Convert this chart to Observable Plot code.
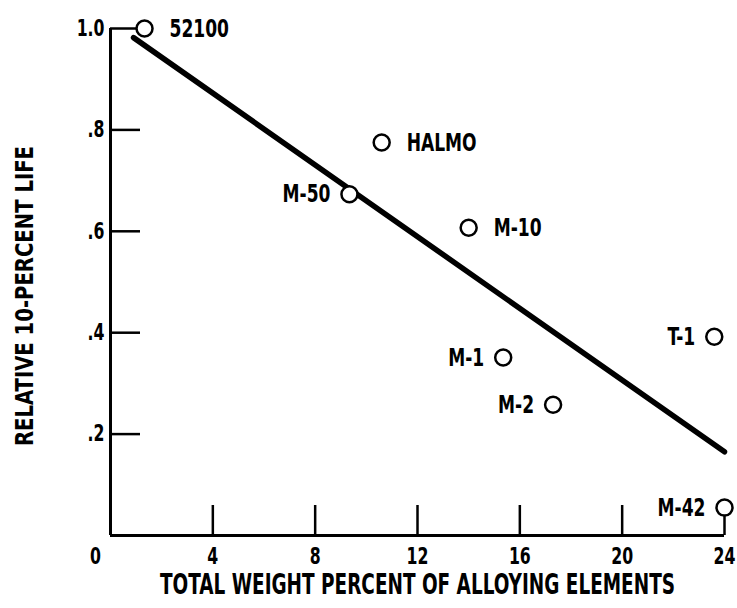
<!DOCTYPE html>
<html><head><meta charset="utf-8">
<script src="https://cdn.jsdelivr.net/npm/d3@7"></script>
<script src="https://cdn.jsdelivr.net/npm/@observablehq/plot@0.6"></script>
<style>html,body{margin:0;padding:0;background:#fff} svg{display:block}</style>
</head><body><div id="chart"></div>
<script>
// Data
const alloys = ["52100", "HALMO", "M-50", "M-10", "M-1", "M-2", "T-1", "M-42"];
const totalWeightPercent = [1.33, 10.6, 9.34, 14.0, 15.35, 17.3, 23.6, 24.0];
const relativeLife = [1.0, 0.775, 0.673, 0.607, 0.351, 0.258, 0.392, 0.055];
const labelSide = ["right", "right", "left", "right", "left", "left", "left", "left"];

const fitX = [0.9, 24.0];
const fitY = [0.982, 0.165];

const xTicks = [4, 8, 12, 16, 20, 24];
const xTickLabels = ["4", "8", "12", "16", "20", "24"];
const yTicks = [0.2, 0.4, 0.6, 0.8, 1.0];
const yTickLabels = [".2", ".4", ".6", ".8", "1.0"];
const originLabel = "0";
const xTitle = "TOTAL WEIGHT PERCENT OF ALLOYING ELEMENTS";
const yTitle = "RELATIVE 10-PERCENT LIFE";

const points = alloys.map((a, i) => ({alloy: a, x: totalWeightPercent[i], y: relativeLife[i], side: labelSide[i]}));
const fit = fitX.map((x, i) => ({x, y: fitY[i]}));

const font = "'DejaVu Sans Condensed', 'DejaVu Sans', sans-serif";

const chart = Plot.plot({
  width: 737, height: 608,
  marginLeft: 110, marginRight: 13, marginTop: 28, marginBottom: 73,
  x: {domain: [0, 24], axis: null},
  y: {domain: [0, 1], axis: null},
  style: {fontFamily: font, background: "white", color: "black", overflow: "visible"},
  marks: [
    Plot.ruleY([0], {stroke: "black", strokeWidth: 3}),
    Plot.ruleX([0], {stroke: "black", strokeWidth: 3}),
    Plot.ruleX(xTicks, {x: d => d, y1: 0, y2: 0, insetBottom: 30, stroke: "black", strokeWidth: 2.5}),
    Plot.ruleY(yTicks, {y: d => d, x1: 0, x2: 0, insetRight: -30, stroke: "black", strokeWidth: 2.5}),
    Plot.line(fit, {x: "x", y: "y", stroke: "black", strokeWidth: 5.5}),
    Plot.dot(points, {x: "x", y: "y", r: 8, stroke: "black", strokeWidth: 2.5, fill: "white"}),
    Plot.text(points, {filter: d => d.side === "right", x: "x", y: "y", text: "alloy", textAnchor: "start", lineAnchor: "middle", dx: 25, fontSize: 25, fontWeight: "bold"}),
    Plot.text(points, {filter: d => d.side === "left", x: "x", y: "y", text: "alloy", textAnchor: "end", lineAnchor: "middle", dx: -19, fontSize: 25, fontWeight: "bold"}),
    Plot.text(xTicks, {x: d => d, text: (d, i) => xTickLabels[i], frameAnchor: "bottom", lineAnchor: "middle", dy: 21, fontSize: 23, fontWeight: "bold"}),
    Plot.text([originLabel], {x: 0, text: d => d, frameAnchor: "bottom", lineAnchor: "middle", dy: 21, dx: -15, fontSize: 23, fontWeight: "bold"}),
    Plot.text(yTicks, {y: d => d, text: (d, i) => yTickLabels[i], frameAnchor: "left", lineAnchor: "middle", dx: -6, textAnchor: "end", fontSize: 23, fontWeight: "bold"}),
    Plot.text([xTitle], {text: d => d, frameAnchor: "bottom", lineAnchor: "middle", dy: 49, fontSize: 29, fontWeight: "bold"}),
    Plot.text([yTitle], {text: d => d, frameAnchor: "left", textAnchor: "middle", lineAnchor: "middle", dx: -86, dy: 14, rotate: -90, fontSize: 25, fontWeight: "bold"})
  ]
});
document.getElementById("chart").appendChild(chart);

// Condense lettering to match the narrow stencil-style lettering of the original
d3.select(chart).selectAll("text").each(function() {
  const t = this.textContent;
  let L;
  if (t === xTitle) L = 515;
  else if (t === yTitle) L = 300;
  else L = this.getComputedTextLength() * 0.76;
  this.setAttribute("textLength", L);
  this.setAttribute("lengthAdjust", "spacingAndGlyphs");
});
</script>
</body></html>
